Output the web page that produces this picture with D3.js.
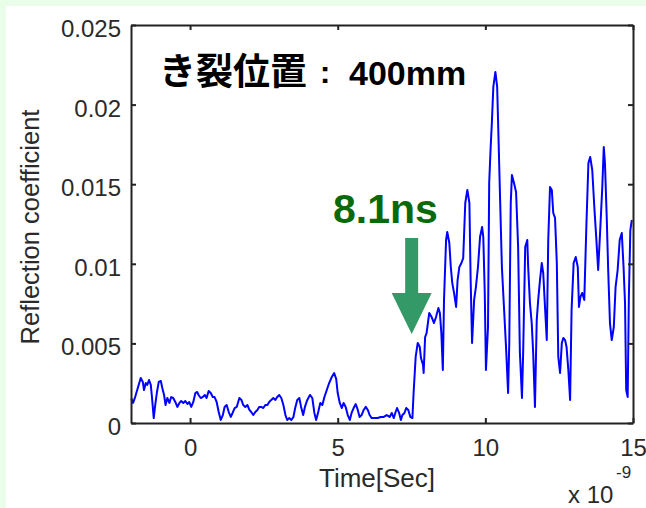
<!DOCTYPE html>
<html>
<head>
<meta charset="utf-8">
<script src="https://cdn.jsdelivr.net/npm/d3@7"></script>
<style>
  html, body { margin: 0; padding: 0; background: #e9fde9; }
  svg { display: block; }
</style>
</head>
<body>
<div id="chart"></div>
<script>
// time axis in ns (axis shows x 10^-9), reflection values in units of 1e-3
const timeNs = [
  -1.99, -1.93, -1.86, -1.76, -1.67, -1.60, -1.56, -1.50, -1.45, -1.39, -1.33, -1.29, -1.23, -1.18, -1.12, -1.06,
  -0.99, -0.94, -0.88, -0.83, -0.77, -0.70, -0.64, -0.57, -0.50, -0.43, -0.36, -0.30, -0.23, -0.16, -0.09, -0.03,
  0.04, 0.11, 0.18, 0.24, 0.29, 0.36, 0.43, 0.50, 0.56, 0.63, 0.70, 0.77, 0.83, 0.90, 0.97, 1.04,
  1.11, 1.17, 1.24, 1.31, 1.38, 1.44, 1.51, 1.58, 1.67, 1.74, 1.80, 1.87, 1.94, 2.01, 2.07, 2.14,
  2.21, 2.28, 2.34, 2.41, 2.48, 2.55, 2.62, 2.68, 2.75, 2.82, 2.89, 2.95, 3.02, 3.09, 3.16, 3.23,
  3.29, 3.36, 3.43, 3.50, 3.56, 3.63, 3.70, 3.76, 3.83, 3.89, 3.97, 4.06, 4.14, 4.21, 4.27, 4.34,
  4.41, 4.48, 4.55, 4.63, 4.71, 4.80, 4.88, 4.95, 5.00, 5.07, 5.14, 5.20, 5.27, 5.34, 5.41, 5.47,
  5.54, 5.61, 5.68, 5.74, 5.81, 5.88, 5.95, 6.02, 6.08, 6.15, 6.25, 6.35, 6.46, 6.56, 6.66, 6.76,
  6.83, 6.90, 6.96, 7.01, 7.08, 7.14, 7.19, 7.26, 7.32, 7.39, 7.46, 7.53, 7.57, 7.64, 7.71, 7.78,
  7.82, 7.89, 7.91, 7.96, 8.01, 8.10, 8.18, 8.26, 8.33, 8.41, 8.46, 8.51, 8.56, 8.60, 8.67, 8.71,
  8.78, 8.83, 8.88, 8.94, 9.01, 9.06, 9.12, 9.19, 9.25, 9.32, 9.39, 9.46, 9.50, 9.55, 9.62, 9.68,
  9.75, 9.82, 9.89, 9.93, 9.98, 10.02, 10.09, 10.13, 10.18, 10.22, 10.27, 10.34, 10.40, 10.45, 10.50, 10.56,
  10.63, 10.70, 10.77, 10.81, 10.86, 10.90, 10.97, 11.04, 11.11, 11.17, 11.24, 11.28, 11.35, 11.42, 11.45, 11.51,
  11.57, 11.62, 11.68, 11.74, 11.79, 11.85, 11.91, 11.96, 12.02, 12.08, 12.13, 12.19, 12.25, 12.30, 12.36, 12.42,
  12.47, 12.53, 12.59, 12.64, 12.70, 12.75, 12.81, 12.87, 12.92, 12.99, 13.06, 13.13, 13.17, 13.22, 13.28, 13.35,
  13.42, 13.49, 13.55, 13.62, 13.69, 13.76, 13.82, 13.89, 13.96, 14.01, 14.05, 14.11, 14.16, 14.22, 14.28, 14.35,
  14.41, 14.48, 14.55, 14.62, 14.68, 14.73, 14.77, 14.82, 14.86, 14.91, 14.96
];
const reflectionE3 = [
  1.55, 1.26, 1.63, 2.26, 2.83, 2.58, 2.07, 2.51, 2.39, 2.70, 2.39, 1.63, 0.31, 1.13, 1.95, 2.58,
  2.64, 2.20, 1.76, 1.13, 1.57, 1.26, 1.63, 1.57, 1.32, 1.01, 1.26, 1.38, 1.26, 1.38, 1.19, 1.32,
  1.01, 1.32, 1.88, 1.95, 1.76, 1.57, 1.63, 1.76, 1.57, 2.01, 1.88, 1.63, 1.63, 1.32, 0.69, 0.19,
  0.50, 1.01, 1.13, 0.69, 0.38, 0.63, 0.94, 1.01, 1.57, 1.45, 1.13, 1.01, 1.13, 0.82, 0.69, 0.50,
  0.69, 0.82, 1.01, 1.01, 0.94, 1.13, 1.13, 1.32, 1.45, 1.57, 1.45, 1.63, 1.76, 1.57, 1.13, 0.50,
  0.19, 0.31, 0.19, 0.38, 0.94, 1.45, 1.57, 1.01, 0.50, 1.01, 1.45, 1.76, 1.57, 0.63, 0.19, 0.69,
  1.26, 1.13, 1.63, 2.07, 2.51, 2.89, 3.14, 2.76, 1.88, 1.26, 0.94, 1.26, 1.01, 0.50, 0.19, 0.63,
  0.94, 1.19, 0.82, 0.38, 0.50, 0.82, 1.01, 0.82, 0.50, 0.31, 0.31, 0.31, 0.38, 0.38, 0.50, 0.38,
  0.63, 0.31, 0.69, 0.94, 0.63, 0.19, 0.50, 0.63, 0.94, 0.82, 0.38, 0.31, 1.88, 4.15, 5.03, 4.77,
  4.08, 3.64, 3.14, 5.40, 5.65, 6.91, 6.66, 6.28, 6.66, 7.22, 6.91, 5.65, 3.33, 7.73, 11.50, 12.00,
  11.31, 9.80, 8.79, 8.17, 7.29, 8.98, 9.80, 10.05, 10.36, 13.82, 14.64, 13.82, 9.17, 5.03, 7.73, 8.54,
  9.80, 11.68, 12.31, 11.68, 8.17, 3.33, 6.03, 15.08, 17.34, 18.84, 21.11, 22.05, 21.11, 17.59, 14.01, 9.80,
  7.29, 4.77, 1.88, 5.03, 13.82, 15.58, 15.08, 14.51, 11.06, 4.40, 1.57, 4.40, 11.06, 11.50, 9.80, 7.54,
  6.28, 4.40, 1.01, 6.47, 7.73, 8.98, 10.05, 9.42, 7.29, 5.21, 11.50, 14.82, 14.64, 13.19, 12.88, 10.05,
  4.15, 3.14, 5.03, 5.34, 5.21, 4.77, 3.33, 1.45, 7.10, 10.05, 10.43, 9.80, 7.29, 7.92, 8.17, 7.73,
  12.31, 16.33, 16.71, 15.89, 13.57, 11.50, 9.61, 12.12, 14.82, 17.34, 16.33, 12.94, 9.61, 6.28, 5.21, 6.03,
  8.54, 9.61, 11.50, 11.94, 9.80, 7.54, 2.07, 1.63, 7.92, 12.12, 12.75
];
const xTicks = [0, 5, 10, 15];
const yTicks = [0, 0.005, 0.01, 0.015, 0.02, 0.025];
const yTickLabels = ['0', '0.005', '0.01', '0.015', '0.02', '0.025'];
const titleJa = 'き裂位置';
const titleNum = '400mm';
const markerLabel = '8.1ns';
const markerTime = 7.64;

const W = 646, H = 508;
const plot = {left: 131, right: 633, top: 25, bottom: 423};
const tickFont = '"Liberation Sans", Arial, sans-serif';

const svg = d3.select('#chart').append('svg')
    .attr('width', W)
    .attr('height', H);

// white panel over the light green page
svg.append('rect')
    .attr('x', 6).attr('y', 6)
    .attr('width', W - 6).attr('height', H - 6)
    .attr('fill', '#ffffff');

const x = d3.scaleLinear().domain([-2, 15]).range([plot.left, plot.right]);
const y = d3.scaleLinear().domain([0, 0.025]).range([plot.bottom, plot.top]);

const series = timeNs.map((t, i) => [t, reflectionE3[i] * 1e-3]);

// signal
svg.append('path')
    .datum(series)
    .attr('fill', 'none')
    .attr('stroke', '#0000ff')
    .attr('stroke-width', 2)
    .attr('stroke-linejoin', 'round')
    .attr('d', d3.line().x(d => x(d[0])).y(d => y(d[1])));

// axes (matlab style box with inward ticks)
const styleAxis = g => {
    g.select('.domain').attr('stroke', '#222').attr('stroke-width', 2);
    g.selectAll('.tick line').attr('stroke', '#222').attr('stroke-width', 2);
    g.selectAll('.tick text')
        .attr('fill', '#2a2a2a')
        .style('font-family', tickFont)
        .style('font-size', '24px');
};

svg.append('g')
    .attr('transform', `translate(0,${plot.bottom})`)
    .call(d3.axisBottom(x).tickValues(xTicks).tickSizeInner(-5).tickSizeOuter(0).tickPadding(16))
    .call(styleAxis);

svg.append('g')
    .attr('transform', `translate(${plot.left},0)`)
    .call(d3.axisLeft(y).tickValues(yTicks).tickFormat((d, i) => yTickLabels[i])
        .tickSizeInner(-5).tickSizeOuter(0).tickPadding(10))
    .call(styleAxis)
    .selectAll('.tick text').attr('dy', '0.48em');

svg.append('g')
    .attr('transform', `translate(0,${plot.top})`)
    .call(d3.axisTop(x).tickValues(xTicks).tickFormat('').tickSizeInner(-5).tickSizeOuter(0))
    .call(styleAxis);

svg.append('g')
    .attr('transform', `translate(${plot.right},0)`)
    .call(d3.axisRight(y).tickValues(yTicks).tickFormat('').tickSizeInner(-5).tickSizeOuter(0))
    .call(styleAxis);

// axis labels
svg.append('text')
    .attr('x', 377).attr('y', 487)
    .attr('text-anchor', 'middle')
    .style('font-family', tickFont).style('font-size', '26px')
    .attr('fill', '#2a2a2a')
    .text('Time[Sec]');

svg.append('text')
    .attr('transform', `translate(39,${(plot.top + plot.bottom) / 2 + 3}) rotate(-90)`)
    .attr('text-anchor', 'middle')
    .style('font-family', tickFont).style('font-size', '25.5px')
    .attr('fill', '#2a2a2a')
    .text('Reflection coefficient');

// exponent label
svg.append('text')
    .attr('x', 568).attr('y', 503)
    .style('font-family', tickFont).style('font-size', '24px')
    .attr('fill', '#2a2a2a')
    .text('x 10');
svg.append('text')
    .attr('x', 616).attr('y', 478)
    .style('font-family', tickFont).style('font-size', '17px')
    .attr('fill', '#2a2a2a')
    .text('-9');

// title annotation
svg.append('text')
    .attr('x', 159).attr('y', 85)
    .style('font-family', '"Noto Sans CJK JP", sans-serif')
    .style('font-weight', 'bold').style('font-size', '37px')
    .attr('fill', '#000')
    .text(titleJa);
svg.append('text')
    .attr('x', 325).attr('y', 83)
    .attr('text-anchor', 'middle')
    .style('font-family', '"Liberation Sans", Arial, sans-serif')
    .style('font-weight', 'bold').style('font-size', '32px')
    .attr('fill', '#000')
    .text(':');
svg.append('text')
    .attr('x', 349).attr('y', 85)
    .style('font-family', '"Liberation Sans", Arial, sans-serif')
    .style('font-weight', 'bold').style('font-size', '34px')
    .attr('fill', '#000')
    .text(titleNum);

// arrival marker
const ax = x(markerTime) - 4;
svg.append('text')
    .attr('x', 333).attr('y', 223)
    .style('font-family', '"Liberation Sans", Arial, sans-serif')
    .style('font-weight', 'bold').style('font-size', '41px')
    .attr('fill', '#0a6a0a')
    .text(markerLabel);

svg.append('path')
    .attr('fill', '#339966')
    .attr('d', `M${ax - 6.5},238 H${ax + 6.5} V293 H${ax + 20} L${ax},334 L${ax - 20},293 H${ax - 6.5} Z`);
</script>
</body>
</html>
